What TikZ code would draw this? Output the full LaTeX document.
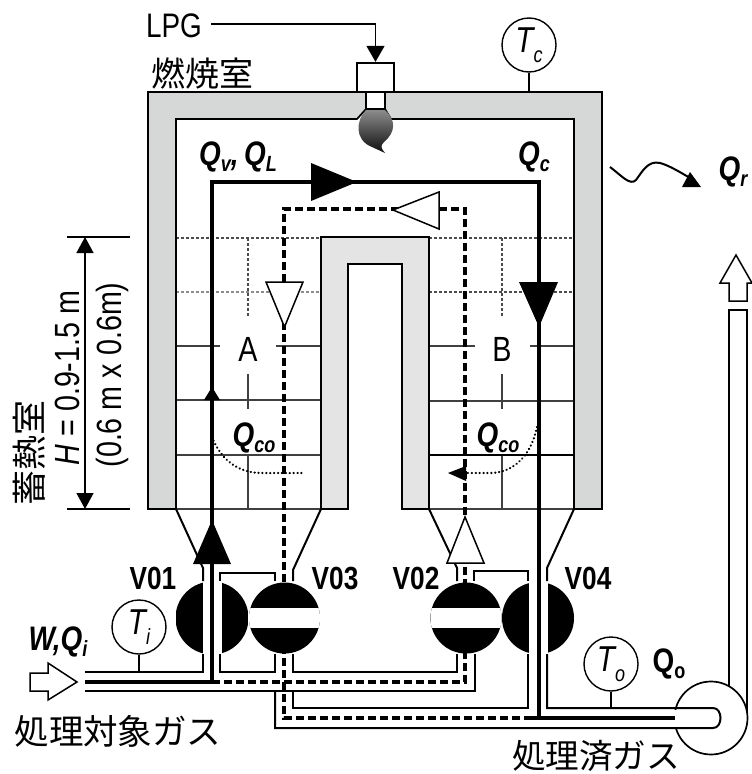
\documentclass[tikz,border=0pt]{standalone}
\usepackage{fontspec}
\setmainfont{Liberation Sans}
\newfontfamily\narrowsans[FakeStretch=0.82]{Liberation Sans}
\newfontfamily\cjkjp{Noto Sans CJK JP}
\usetikzlibrary{arrows.meta}
\definecolor{wallgray}{HTML}{D6D8D8}
\definecolor{coregray}{HTML}{E4E4E4}
\newcommand{\labsub}[3][-6pt]{#2\raisebox{#1}{\fontsize{22}{22}\selectfont #3}}
\tikzset{%
  wall/.style={draw, line width=1.7pt, fill=wallgray, line join=miter},
  core/.style={draw, line width=2.6pt, fill=coregray, line join=miter},
  pipe/.style={draw, line width=2pt, line join=miter},
  grid/.style={draw, line width=1.3pt, color=black!75},
  griddot/.style={draw, line width=1.1pt, color=black!70, dash pattern=on 2.5pt off 2.5pt},
  flow/.style={draw, line width=3.05pt, line join=miter},
  flowdash/.style={draw, line width=3.05pt, dash pattern=on 8pt off 4pt},
  heat/.style={draw, line width=2.4pt, line cap=round, dash pattern=on 0.1pt off 3.8pt},
  tipblack/.style={fill=black},
  tipwhite/.style={draw, line width=1.5pt, fill=white, line join=miter},
  gauge/.style={circle, draw, line width=1.4pt, fill=white, minimum size=54pt, inner sep=0pt},
  halfvalve/.style={circle, minimum size=#1, inner sep=0pt,
    path picture={\fill ([xshift=-9.5pt]path picture bounding box.north) rectangle (path picture bounding box.south west);
      \fill ([xshift=9.5pt]path picture bounding box.north) rectangle (path picture bounding box.south east);}},
  barvalve/.style={circle, fill=black, minimum size=71pt, inner sep=0pt,
    path picture={\fill[white] ([yshift=10pt]path picture bounding box.west) rectangle ([yshift=-10pt]path picture bounding box.east);}},
  sans/.style={font=\narrowsans\fontsize{35}{35}\selectfont, inner sep=0pt},
  valvelab/.style={font=\narrowsans\bfseries\fontsize{32}{32}\selectfont, inner sep=0pt},
  qlab/.style={font=\narrowsans\bfseries\itshape\fontsize{34}{34}\selectfont, inner sep=0pt},
  tlab/.style={font=\narrowsans\itshape\fontsize{36}{36}\selectfont},
  jalab/.style={font=\cjkjp\fontsize{#1}{#1}\selectfont, inner sep=0pt},
}
\begin{document}
\begin{tikzpicture}[x=1pt,y=-1pt]
\useasboundingbox (0,0) rectangle (752,774);
% regenerator grid
\path[griddot] (176,238) -- (321,238) (429,238) -- (574,238);
\path[griddot,color=black!45] (176,292) -- (321,292);
\path[griddot] (429,292) -- (574,292) (248,238) -- (248,316) (502,238) -- (502,316);
\path[grid] (176,346) -- (220,346) (276,346) -- (321,346) (429,346) -- (475,346) (530,346) -- (574,346);
\path[grid] (176,400) -- (321,400) (429,401) -- (574,401);
\path[grid] (248,374) -- (248,409) (502,374) -- (502,409);
\path[grid] (176,455) -- (321,455) (248,455) -- (248,509) (502,455) -- (502,509);
\draw[line width=2pt] (429,455) -- (574,455);
\path[grid] (176,509) -- (321,509) (429,509) -- (574,509);
% walls
\filldraw[wall] (148,509) -- (148,92) -- (602,92) -- (602,509) -- (574,509) -- (574,119) -- (391,119)
  -- (385,109) -- (366,109) -- (357,119) -- (176,119) -- (176,509) -- cycle;
\filldraw[core] (321,509) -- (321,237) -- (429,237) -- (429,509) -- (402,509) -- (402,264) -- (348,264) -- (348,509) -- cycle;
% burner
\node[draw, line width=2.3pt, fill=white, minimum width=37pt, minimum height=29pt, inner sep=0pt] (burner) at (375.5,77.5) {};
\node[draw, line width=2.3pt, fill=white, minimum width=19pt, minimum height=17pt, inner sep=0pt] (nozzle) at (375.5,100.5) {};
\shade[top color=black!45, bottom color=black!95] (366,110) .. controls (356,120) and (354,140) .. (372,147)
  -- (385,153) .. controls (381,148) and (380,146) .. (384,142) .. controls (396,132) and (396,120) .. (385,110) -- cycle;
% pipes and funnels
\path[pipe] (176,509) -- (203,568) -- (203,581) (321,509) -- (293,570) -- (293,581);
\path[pipe] (220,581) -- (220,573) -- (275,573) -- (275,581);
\path[pipe] (429,509) -- (457,568) -- (457,581) (574,509) -- (547,568) -- (547,581);
\path[pipe] (474,581) -- (474,571) -- (528,571) -- (528,581);
\path[pipe] (85,672) -- (203,672) -- (203,654);
\path[pipe] (220,654) -- (220,672) -- (275,672) -- (275,654);
\path[pipe] (293,654) -- (293,672) -- (457,672) -- (457,654);
\path[pipe] (85,691) -- (475,691) -- (475,654);
% exhaust fan
\node[circle, draw, line width=1.7pt, fill=white, minimum size=73pt, inner sep=0pt] (fan) at (711,718) {};
\fill[white] (670,710) rectangle (682,726.5);
\path[pipe] (729,686) -- (729,310) -- (747,310) -- (747,712);
\path[pipe] (275,691) -- (275,728) -- (713,728) .. controls (723,728) and (723,708) .. (713,708) -- (547,708) -- (547,654);
\path[pipe] (293,691) -- (293,708) -- (528,708) -- (528,654);
% flows
\coordinate (inlet) at (85,682);
\coordinate (split) at (212,682);
\coordinate (outlet) at (539,718);
\coordinate (fanin) at (675,718);
\path[flowdash] (split) -- (465,682) -- (465,209) -- (284,209) -- (284,718) -- (outlet);
\path[flow] (inlet) -- (split) -- (212,182) -- (539,182) -- (outlet) (527,718) -- (fanin);
% valves
\node[halfvalve=73pt] (v01) at (212,618) {};
\node[barvalve] (v03) at (284.5,618) {};
\node[barvalve] (v02) at (466,618) {};
\node[halfvalve=72pt] (v04) at (538,618) {};
% flow tips
\fill[tipblack] (357,182) -- (311,163) -- (311,201) -- cycle;
\filldraw[tipwhite] (393,210) -- (439,192) -- (439,229) -- cycle;
\filldraw[tipwhite] (284.5,327) -- (266,282) -- (303,282) -- cycle;
\fill[tipblack] (539,327) -- (519,282) -- (558,282) -- cycle;
\fill[tipblack] (212,387) -- (204,400) -- (220,400) -- cycle;
\fill[tipblack] (212,520) -- (193,564) -- (231,564) -- cycle;
\filldraw[tipwhite] (465,517) -- (447,563) -- (484,563) -- cycle;
\filldraw[tipwhite] (30,673) -- (48,673) -- (48,663) -- (77,682) -- (48,700) -- (48,691) -- (30,691) -- cycle;
\filldraw[tipwhite] (729,301) -- (729,283) -- (720,283) -- (736,255) -- (752,283) -- (747,283) -- (747,301) -- cycle;
% conduction in the packing
\path[heat] (212,437) .. controls (222,462) and (240,473) .. (262,473) -- (303,473);
\path[heat] (537,427) .. controls (530,460) and (510,473) .. (490,473) -- (466,473);
\fill[tipblack] (448,473) -- (466,466) -- (466,481) -- cycle;
% radiation
\draw[line width=2pt] (610,167) .. controls (622,176) and (630,186) .. (636,180) .. controls (642,172) and (648,160) .. (660,163) .. controls (668,165) and (680,172) .. (690,178);
\fill[tipblack] (690,172) -- (701,187) -- (682,187) -- cycle;
% gauges
\coordinate (wallc) at (529,92);
\coordinate (pipei) at (139,672);
\coordinate (pipeo) at (611,708);
\node[gauge, tlab] (tc) at (529,45) {\labsub[-10pt]{T}{c}};
\node[gauge, tlab] (ti) at (139,627) {\labsub[-10pt]{T}{i}};
\node[gauge, tlab] (to) at (611,664) {\labsub[-10pt]{T}{o}};
\draw[line width=1.4pt] (tc) -- (wallc) (ti) -- (pipei) (to) -- (pipeo);
% LPG feed
\node[sans, font=\narrowsans\fontsize{34}{34}\selectfont] (lpg) at (174,26) {LPG};
\draw[line width=1.5pt, -{Triangle[length=16pt,width=18pt]}] ([xshift=9pt,yshift=2pt]lpg.east) -| (burner.north);
% height of the regenerator
\coordinate (dimtop) at (85,237);
\coordinate (dimbot) at (85,509);
\draw[line width=1.4pt] (67,237) -- (130,237) (67,509) -- (130,509);
\draw[line width=1.4pt, {Triangle[length=16pt,width=17pt]}-{Triangle[length=16pt,width=17pt]}] (dimtop) -- (dimbot);
\node[sans, rotate=90] (height) at (67,378) {\textit{H} = 0.9-1.5 m};
\node[sans, rotate=90] (size) at (112,375) {(0.6 m x 0.6m)};
% labels
\node[jalab=34] (comb) at (202,74) {燃焼室};
\node[jalab=35, rotate=90] (regen) at (29,453) {蓄熱室};
\node[jalab=34.5] (gasin) at (118,731) {処理対象ガス};
\node[jalab=33.6] (gasout) at (596,756) {処理済ガス};
\node[sans] (labA) at (248,349) {A};
\node[sans] (labB) at (502,349) {B};
\node[valvelab] (labv01) at (153,578) {V01};
\node[valvelab] (labv03) at (335,578) {V03};
\node[valvelab] (labv02) at (416,578) {V02};
\node[valvelab] (labv04) at (588,578) {V04};
\node[qlab] (qvl) at (238,157) {\labsub{Q}{v},\labsub{\,Q}{L}};
\node[qlab] (qc) at (534,157) {\labsub{Q}{c}};
\node[qlab] (qr) at (733,172) {\labsub{Q}{r}};
\node[qlab] (qcoa) at (254,438) {\labsub{Q}{co}};
\node[qlab] (qcob) at (498,438) {\labsub{Q}{co}};
\node[qlab] (wqi) at (58,642) {W,\labsub{Q}{i}};
\node[qlab, font=\narrowsans\bfseries\fontsize{34}{34}\selectfont] (qo) at (669,664) {\labsub{Q}{o}};
\end{tikzpicture}
\end{document}
